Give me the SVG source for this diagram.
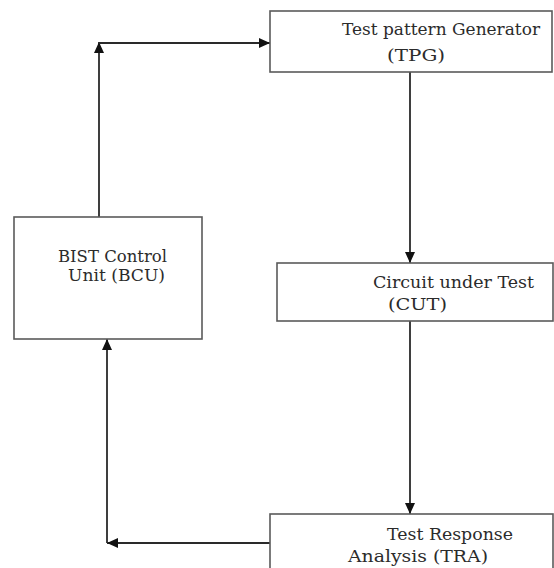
<svg xmlns="http://www.w3.org/2000/svg" width="554" height="568" viewBox="0 0 554 568">
<style>
.box{fill:#fff;stroke:#5a5a5a;stroke-width:1.6}
.lbl{font-family:'DejaVu Serif','Liberation Serif',serif;font-size:16px;fill:#2b2b2b}
.con{fill:none;stroke:#2a2a2a;stroke-width:1.8}
</style>
<defs>
<marker id="ah" markerUnits="userSpaceOnUse" markerWidth="12" markerHeight="12" refX="11" refY="6" orient="auto">
<path d="M0,1 L11,6 L0,11 z" fill="#111"/>
</marker>
</defs>
<rect width="554" height="568" fill="#fff"/>
<g id="connectors">
<path class="con" d="M99,217 V42" marker-end="url(#ah)"/>
<path class="con" d="M99,43 H270" marker-end="url(#ah)"/>
<path class="con" d="M410,72 V263" marker-end="url(#ah)"/>
<path class="con" d="M410,321 V514" marker-end="url(#ah)"/>
<path class="con" d="M270,543 H107" marker-end="url(#ah)"/>
<path class="con" d="M107,543 V339" marker-end="url(#ah)"/>
</g>
<g id="tpg">
<rect class="box" x="270" y="11" width="282" height="61"/>
<text class="lbl" x="342" y="35" textLength="198" lengthAdjust="spacingAndGlyphs">Test pattern Generator</text>
<text class="lbl" x="387" y="61" textLength="58" lengthAdjust="spacingAndGlyphs">(TPG)</text>
</g>
<g id="bcu">
<rect class="box" x="14" y="217" width="188" height="122"/>
<text class="lbl" x="58" y="262" textLength="109" lengthAdjust="spacingAndGlyphs">BIST Control</text>
<text class="lbl" x="68" y="281" textLength="97" lengthAdjust="spacingAndGlyphs">Unit (BCU)</text>
</g>
<g id="cut">
<rect class="box" x="277" y="263" width="276" height="58"/>
<text class="lbl" x="373" y="288" textLength="161" lengthAdjust="spacingAndGlyphs">Circuit under Test</text>
<text class="lbl" x="388" y="310" textLength="59" lengthAdjust="spacingAndGlyphs">(CUT)</text>
</g>
<g id="tra">
<rect class="box" x="270" y="514" width="283" height="60"/>
<text class="lbl" x="387" y="540" textLength="126" lengthAdjust="spacingAndGlyphs">Test Response</text>
<text class="lbl" x="348" y="562" textLength="140" lengthAdjust="spacingAndGlyphs">Analysis (TRA)</text>
</g>
</svg>
